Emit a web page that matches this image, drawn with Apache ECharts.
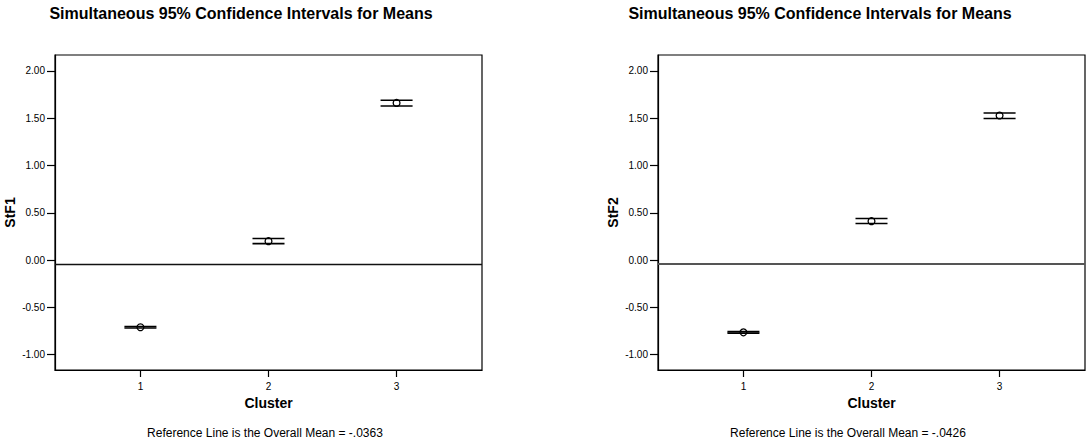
<!DOCTYPE html>
<html>
<head>
<meta charset="utf-8">
<script src="https://cdn.jsdelivr.net/npm/echarts@6/dist/echarts.min.js"></script>
<style>
  html, body { margin: 0; padding: 0; background: #fff; }
  #chart { width: 1086px; height: 444px; }
</style>
</head>
<body>
<div id="chart"></div>
<script>
// ---- data ----
const clusters = [1, 2, 3];
const stf1Mean  = [-0.710, 0.200, 1.662];
const stf1Lower = [-0.718, 0.174, 1.630];
const stf1Upper = [-0.702, 0.229, 1.690];
const stf2Mean  = [-0.764, 0.412, 1.529];
const stf2Lower = [-0.772, 0.387, 1.498];
const stf2Upper = [-0.756, 0.440, 1.556];
const overallMeans = [-0.0363, -0.0426];
const yTicks = [-1.0, -0.5, 0.0, 0.5, 1.0, 1.5, 2.0];
const xTicks = [1, 2, 3];
const chartTitle = 'Simultaneous 95% Confidence Intervals for Means';
const yNames = ['StF1', 'StF2'];
const xName = 'Cluster';
const refNotes = ['Reference Line is the Overall Mean = -.0363', 'Reference Line is the Overall Mean = -.0426'];

// ---- chart ----
const FONT = "'Liberation Sans', Arial, Helvetica, sans-serif";
const chart = echarts.init(document.getElementById('chart'), null, { renderer: 'svg' });

function ciData(lower, upper, mean) {
  return clusters.map((c, i) => [c, lower[i], upper[i], mean[i]]);
}

function renderCI(params, api) {
  const x = api.value(0), lo = api.value(1), hi = api.value(2), m = api.value(3);
  const hw = 0.125;
  const a = api.coord([x - hw, hi]), b = api.coord([x + hw, hi]);
  const c = api.coord([x - hw, lo]), d = api.coord([x + hw, lo]);
  const p = api.coord([x, m]);
  const ls = { stroke: '#000', lineWidth: 1.6 };
  return {
    type: 'group',
    children: [
      { type: 'line', shape: { x1: a[0], y1: a[1], x2: b[0], y2: b[1] }, style: ls },
      { type: 'line', shape: { x1: c[0], y1: c[1], x2: d[0], y2: d[1] }, style: ls },
      { type: 'circle', shape: { cx: p[0], cy: p[1], r: 3.4 }, style: { fill: 'none', stroke: '#000', lineWidth: 1.3 } }
    ]
  };
}

const grids = [
  { left: 55, top: 55, width: 427, height: 315 },
  { left: 658, top: 55, width: 427, height: 315 }
];

function xAxisCfg(gi) {
  return {
    type: 'value', gridIndex: gi, min: 0.333, max: 3.667,
    axisLine: { show: true, onZero: false, lineStyle: { color: '#000', width: 1.2 } },
    splitLine: { show: false },
    axisTick: { show: true, customValues: xTicks, length: 7, lineStyle: { color: '#000', width: 1.2 } },
    axisLabel: { customValues: xTicks, fontSize: 10, color: '#000', margin: 11, fontFamily: FONT },
    name: xName, nameLocation: 'middle', nameGap: 20,
    nameTextStyle: { fontWeight: 'bold', fontSize: 14, color: '#000', fontFamily: FONT }
  };
}
function yAxisCfg(gi) {
  return {
    type: 'value', gridIndex: gi, min: -1.162, max: 2.169,
    axisLine: { show: true, onZero: false, lineStyle: { color: '#000', width: 1.2 } },
    splitLine: { show: false },
    axisTick: { show: true, customValues: yTicks, length: 8, lineStyle: { color: '#000', width: 1.2 } },
    axisLabel: { customValues: yTicks, fontSize: 10, color: '#000', margin: 10, fontFamily: FONT,
                 formatter: v => Number(v).toFixed(2) },
    name: yNames[gi], nameLocation: 'middle', nameGap: 38,
    nameTextStyle: { fontWeight: 'bold', fontSize: 14, color: '#000', fontFamily: FONT }
  };
}

const refStyles = [
  { color: '#111', width: 1.3, type: 'solid' },
  { color: '#555', width: 2, type: 'solid' }
];

const option = {
  animation: false,
  backgroundColor: '#fff',
  grid: grids.map(g => Object.assign({ show: true, borderColor: '#000', borderWidth: 1.2, backgroundColor: 'transparent' }, g)),
  xAxis: [xAxisCfg(0), xAxisCfg(1)],
  yAxis: [yAxisCfg(0), yAxisCfg(1)],
  series: [
    { type: 'custom', xAxisIndex: 0, yAxisIndex: 0, renderItem: renderCI,
      encode: { x: 0, y: [1, 2, 3] }, data: ciData(stf1Lower, stf1Upper, stf1Mean),
      markLine: { silent: true, symbol: 'none', label: { show: false }, lineStyle: refStyles[0],
                  data: [{ yAxis: overallMeans[0] }] } },
    { type: 'custom', xAxisIndex: 1, yAxisIndex: 1, renderItem: renderCI,
      encode: { x: 0, y: [1, 2, 3] }, data: ciData(stf2Lower, stf2Upper, stf2Mean),
      markLine: { silent: true, symbol: 'none', label: { show: false }, lineStyle: refStyles[1],
                  data: [{ yAxis: overallMeans[1] }] } }
  ],
  graphic: [
    { type: 'text', x: 241, y: 13, style: { text: chartTitle, align: 'center', verticalAlign: 'middle',
      fontSize: 16, fontWeight: 'bold', fontFamily: FONT, fill: '#000' } },
    { type: 'text', x: 820, y: 13, style: { text: chartTitle, align: 'center', verticalAlign: 'middle',
      fontSize: 16, fontWeight: 'bold', fontFamily: FONT, fill: '#000' } },
    { type: 'text', x: 265, y: 433, style: { text: refNotes[0], align: 'center', verticalAlign: 'middle',
      fontSize: 12, fontFamily: FONT, fill: '#000' } },
    { type: 'text', x: 848, y: 433, style: { text: refNotes[1], align: 'center', verticalAlign: 'middle',
      fontSize: 12, fontFamily: FONT, fill: '#000' } }
  ]
};
chart.setOption(option);
</script>
</body>
</html>
